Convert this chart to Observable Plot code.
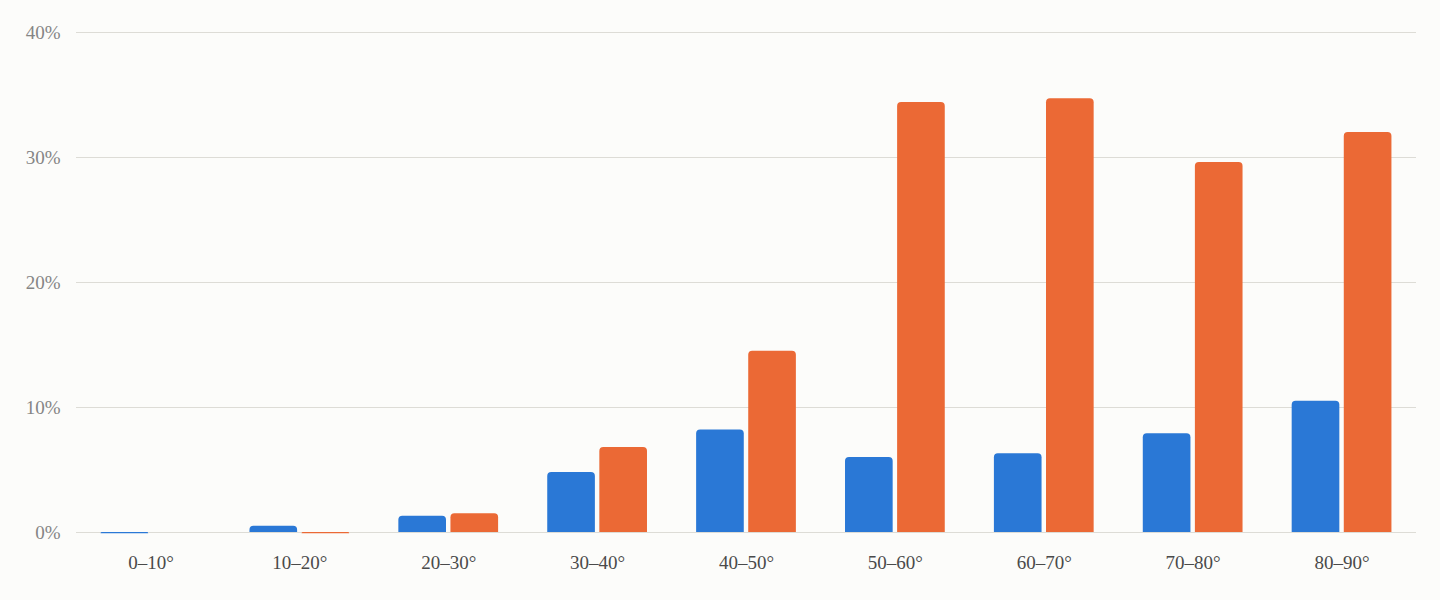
<!DOCTYPE html>
<html><head><meta charset="utf-8">
<script src="https://cdn.jsdelivr.net/npm/d3@7"></script>
<script src="https://cdn.jsdelivr.net/npm/@observablehq/plot@0.6"></script>
<style>
html,body{margin:0;padding:0;background:#fcfcfa;}
#chart svg{display:block;}
</style></head><body><div id="chart"></div>
<script>
const categories = ["0–10°", "10–20°", "20–30°", "30–40°", "40–50°", "50–60°", "60–70°", "70–80°", "80–90°"];
const blueValues = [-0.1, 0.5, 1.3, 4.8, 8.2, 6.0, 6.3, 7.9, 10.5];
const orangeValues = [0, -0.1, 1.5, 6.8, 14.5, 34.4, 34.7, 29.6, 32.0];
const yTicks = [0, 10, 20, 30, 40];

const blueData = categories.map((c, i) => ({category: c, value: blueValues[i]}));
const orangeData = categories.map((c, i) => ({category: c, value: orangeValues[i]}));

const BLUE = "#2a78d6";
const ORANGE = "#eb6935";
const barW = 47.7;
const bandW = 99.8;
const inset = bandW - barW;

function bars(data, color, side) {
  const opts = side === "left" ? {insetRight: inset} : {insetLeft: inset};
  return [Plot.barY(data, {x: "category", y: "value", fill: color, ry1: 4, ...opts})];
}

const chart = Plot.plot({
  width: 1440,
  height: 600,
  marginLeft: 76,
  marginRight: 24,
  marginTop: 32,
  marginBottom: 68,
  style: {background: "#fcfcfa", fontFamily: "'Liberation Serif', 'Times New Roman', serif"},
  x: {domain: categories, paddingInner: 0.33, paddingOuter: 0.165, round: false, label: null, axis: null},
  y: {domain: [0, 40], label: null, axis: null},
  marks: [
    Plot.ruleY(yTicks, {stroke: "#dddcd6", strokeWidth: 1.2}),
    Plot.axisY({ticks: yTicks, tickSize: 0, tickPadding: 16, tickFormat: d => d + "%", fill: "#858585", fontSize: 19, label: null}),
    Plot.axisX({tickSize: 0, tickPadding: 23, fill: "#4a4a4a", fontSize: 19, label: null}),
    ...bars(blueData, BLUE, "left"),
    ...bars(orangeData, ORANGE, "right")
  ]
});
document.getElementById("chart").appendChild(chart);
</script>
</body></html>
